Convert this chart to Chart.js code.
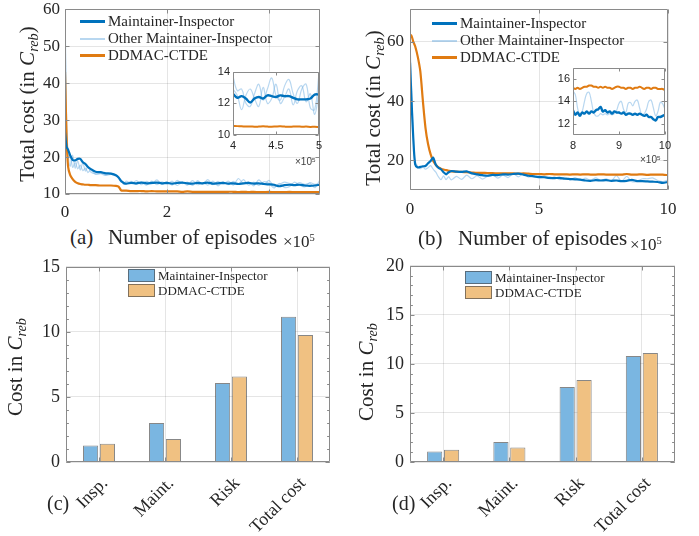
<!DOCTYPE html>
<html lang="en">
<head>
<meta charset="utf-8">
<title>Maintainer-Inspector vs DDMAC-CTDE</title>
<script src="https://cdn.jsdelivr.net/npm/chart.js@4.4.1/dist/chart.umd.min.js"></script>
<style>
  body { margin: 0; background: #fff; }
  #fig { position: relative; width: 699px; height: 536px; overflow: hidden;
         font-family: "Liberation Serif", "Times New Roman", serif; color: #262626; }
  #fig canvas { position: absolute; }
  .txt { position: absolute; white-space: nowrap; line-height: 1; }
  .rot { transform: translate(-50%, -50%) rotate(-90deg); }
  .txt sub { font-size: 0.68em; font-style: italic; vertical-align: -0.35em; line-height: 0; }
  .txt sup { font-size: 0.62em; vertical-align: 0.55em; line-height: 0; }
  .leg { position: absolute; }
  .leg div { white-space: nowrap; display: flex; align-items: center; }
  .leg span.sw { display: inline-block; flex: none; }
  .sans { font-family: "Liberation Sans", Arial, sans-serif; color: #404040; }
</style>
</head>
<body>
<div id="fig">
  <canvas id="cA"></canvas>
  <canvas id="cB"></canvas>
  <canvas id="cC"></canvas>
  <canvas id="cD"></canvas>
  <canvas id="cAi"></canvas>
  <canvas id="cBi"></canvas>

  <div id="legA" class="leg" style="left:80px; top:13px; font-size:15px;"></div>
  <div id="legB" class="leg" style="left:432px; top:15px; font-size:15px;"></div>
  <div id="legC" class="leg" style="left:128px; top:268px; font-size:13px;"></div>
  <div id="legD" class="leg" style="left:465px; top:270px; font-size:13px;"></div>

  <div class="txt rot" style="left:27px; top:104px; font-size:21px;">Total cost (in <i>C</i><sub>reb</sub>)</div>
  <div class="txt rot" style="left:373px; top:108px; font-size:21px;">Total cost (in <i>C</i><sub>reb</sub>)</div>
  <div class="txt rot" style="left:15px; top:367px; font-size:21px;">Cost in <i>C</i><sub>reb</sub></div>
  <div class="txt rot" style="left:366px; top:372px; font-size:21px;">Cost in <i>C</i><sub>reb</sub></div>

  <div class="txt" style="left:70px; top:227px; font-size:21px;">(a)</div>
  <div class="txt" style="left:108px; top:227px; font-size:21px;">Number of episodes</div>
  <div class="txt" style="left:283px; top:233px; font-size:17px;">&times;10<sup>5</sup></div>
  <div class="txt" style="left:418px; top:228px; font-size:21px;">(b)</div>
  <div class="txt" style="left:458px; top:228px; font-size:21px;">Number of episodes</div>
  <div class="txt" style="left:630px; top:236px; font-size:17px;">&times;10<sup>5</sup></div>
  <div class="txt sans" style="left:295px; top:157px; font-size:10px;">&times;10<sup>5</sup></div>
  <div class="txt sans" style="left:640px; top:155px; font-size:10px;">&times;10<sup>5</sup></div>

  <div class="txt" style="left:47px; top:493px; font-size:20px;">(c)</div>
  <div class="txt" style="left:392px; top:493px; font-size:20px;">(d)</div>
</div>

<script>
// ---------- data ----------
const seriesNames = ['Maintainer-Inspector', 'Other Maintainer-Inspector', 'DDMAC-CTDE'];

// panel (a): episodes in units of 1e5
const aX = [0, 0.03, 0.06, 0.1, 0.15, 0.2, 0.25, 0.3, 0.35, 0.4, 0.45, 0.5, 0.6, 0.7, 0.8, 0.9, 1.0, 1.05, 1.1, 1.15, 1.2,
  1.3, 1.4, 1.5, 1.6, 1.7, 1.8, 1.9, 2.0, 2.1, 2.2, 2.3, 2.4, 2.5, 2.6, 2.7, 2.8, 2.9, 3.0, 3.1, 3.2,
  3.3, 3.4, 3.5, 3.6, 3.7, 3.8, 3.9, 4.0, 4.1, 4.2, 4.3, 4.4, 4.5, 4.6, 4.7, 4.8, 4.9, 5.0];
const aBlue = [26.7, 22.8, 22.0, 20.5, 19.2, 19.1, 19.5, 19.5, 18.6, 18.1, 17.3, 16.8, 16.0, 15.9, 15.6, 15.5, 15.1, 14.5, 13.5, 13.0, 12.8,
  13.0, 12.9, 13.1, 12.9, 13.0, 13.1, 12.9, 13.0, 12.8, 13.0, 13.1, 12.9, 12.8, 13.0, 12.9, 13.1, 12.8, 12.9, 13.0, 12.8,
  12.9, 12.7, 12.9, 13.0, 12.8, 12.9, 12.7, 12.6, 12.5, 12.1, 12.4, 12.5, 12.4, 12.5, 12.3, 12.2, 12.3, 12.5];
const aOther1 = [62, 30, 21, 17.5, 20.5, 17.0, 19.0, 16.5, 18.5, 16.2, 17.5, 16.0, 15.5, 15.8, 15.2, 15.6, 15.0, 14.2, 13.8, 12.6, 13.5,
  12.8, 13.6, 12.5, 13.4, 12.7, 13.8, 12.6, 13.3, 12.4, 13.7, 12.8, 13.2, 12.3, 13.6, 12.7, 13.9, 12.5, 13.4, 12.6, 13.5,
  12.4, 14.2, 12.8, 13.3, 12.2, 13.8, 12.6, 13.7, 12.0, 12.6, 13.2, 12.9, 12.5, 13.1, 12.6, 12.9, 11.7, 13.9];
const aOther2 = [58, 27, 19.5, 20.5, 17.2, 18.5, 16.8, 17.8, 16.3, 17.0, 15.8, 16.5, 15.3, 15.5, 15.0, 15.3, 14.8, 14.5, 13.2, 13.3, 12.7,
  13.4, 12.6, 13.2, 12.4, 13.5, 12.5, 13.3, 12.6, 13.5, 12.3, 13.2, 12.4, 13.6, 12.5, 13.1, 12.4, 13.5, 12.2, 13.3, 12.5,
  13.4, 12.6, 13.9, 12.4, 13.2, 12.3, 13.3, 12.9, 11.6, 12.9, 11.8, 12.0, 13.2, 12.4, 11.9, 13.1, 12.6, 12.8];
const aOrange = [43, 26, 17.5, 15.2, 14.0, 13.3, 12.9, 12.7, 12.6, 12.5, 12.5, 12.4, 12.4, 12.3, 12.3, 12.3, 12.2, 12.0, 11.0, 10.9, 10.9,
  10.8, 10.8, 10.8, 10.7, 10.8, 10.7, 10.7, 10.7, 10.7, 10.7, 10.6, 10.7, 10.6, 10.6, 10.6, 10.6, 10.6, 10.6, 10.6, 10.6,
  10.6, 10.5, 10.6, 10.5, 10.6, 10.5, 10.5, 10.6, 10.5, 10.5, 10.5, 10.6, 10.5, 10.5, 10.5, 10.5, 10.5, 10.5];

// inset of (a): 4e5 .. 5e5
const aInX = [4.0, 4.05, 4.1, 4.15, 4.2, 4.25, 4.3, 4.35, 4.4, 4.45, 4.5, 4.55, 4.6, 4.65, 4.7, 4.75, 4.8, 4.85, 4.9, 4.95, 5.0];
const aInBlue = [12.6, 12.35, 12.45, 12.3, 12.05, 12.3, 12.4, 12.3, 12.5, 12.45, 12.4, 12.5, 12.45, 12.45, 12.35, 12.25, 12.25, 12.25, 12.3, 12.55, 12.55];
const aInOther1 = [13.7, 12.8, 12.9, 12.0, 11.8, 12.6, 13.2, 12.2, 12.9, 13.6, 12.5, 12.2, 13.1, 13.5, 12.6, 12.0, 12.9, 13.2, 11.7, 11.6, 13.9];
const aInOther2 = [12.9, 12.5, 11.6, 12.5, 12.9, 12.3, 11.8, 13.0, 12.0, 12.3, 13.2, 12.0, 12.4, 12.9, 11.9, 12.8, 13.1, 12.1, 12.6, 11.3, 12.8];
const aInOrange = [10.58, 10.56, 10.55, 10.53, 10.54, 10.52, 10.53, 10.55, 10.53, 10.52, 10.54, 10.55, 10.53, 10.52, 10.53, 10.54, 10.52, 10.53, 10.51, 10.52, 10.5];

// panel (b)
const bX = [0, 0.06, 0.13, 0.2, 0.3, 0.4, 0.5, 0.6, 0.7, 0.8, 0.9, 1.0, 1.1, 1.2, 1.3, 1.4, 1.5, 1.6, 1.8, 2.0,
  2.2, 2.4, 2.6, 2.8, 3.0, 3.2, 3.4, 3.6, 3.8, 4.0, 4.2, 4.4, 4.6, 4.8, 5.0, 5.2, 5.4, 5.6, 5.8, 6.0,
  6.2, 6.4, 6.6, 6.8, 7.0, 7.2, 7.4, 7.6, 7.8, 8.0, 8.2, 8.4, 8.6, 8.8, 9.0, 9.2, 9.4, 9.6, 9.8, 10.0];
const bBlue = [53, 40, 27, 18.7, 17.6, 17.8, 18.0, 18.1, 19.0, 19.8, 20.9, 18.5, 17.5, 17.0, 16.0, 15.3, 16.0, 16.4, 16.2, 16.1,
  16.3, 15.6, 15.3, 15.0, 14.8, 15.1, 15.0, 15.3, 15.2, 15.4, 15.5, 15.2, 14.8, 14.6, 14.4, 14.3, 14.1, 14.0, 14.1, 13.8,
  13.7, 13.6, 13.5, 13.2, 13.1, 13.3, 13.2, 13.3, 13.1, 13.2, 13.0, 13.1, 13.4, 13.0, 13.0, 12.9, 12.8, 12.7, 12.4, 12.7];
const bOther = [60, 45, 28, 19.5, 18.0, 17.2, 17.8, 17.0, 17.5, 18.2, 17.0, 16.0, 14.5, 13.5, 14.8, 13.5, 14.5, 13.4, 14.6, 13.6,
  15.0, 13.8, 14.8, 13.7, 14.6, 15.2, 14.0, 15.0, 14.2, 15.5, 14.4, 15.6, 14.3, 14.8, 13.9, 14.6, 13.8, 14.4, 13.5, 14.3,
  13.4, 14.2, 13.2, 14.0, 13.3, 14.1, 13.2, 13.8, 13.0, 14.9, 12.9, 14.6, 12.8, 12.9, 13.8, 13.8, 14.1, 13.2, 12.8, 13.4];
const bOrange = [62.5, 62, 60, 58.5, 55, 50, 40, 31, 25.5, 22, 19.8, 18.5, 17.6, 17.2, 16.9, 16.7, 16.5, 16.3, 16.2, 16.1,
  16.0, 15.9, 15.8, 15.8, 15.7, 15.7, 15.6, 15.6, 15.6, 15.6, 15.5, 15.6, 15.5, 15.4, 15.4, 15.3, 15.4, 15.3, 15.3, 15.3,
  15.2, 15.3, 15.2, 15.3, 15.2, 15.2, 15.3, 15.2, 15.2, 15.2, 15.2, 15.4, 15.2, 15.2, 15.3, 15.1, 15.2, 15.2, 15.2, 15.0];

// inset of (b): 8e5 .. 10e5
const bInX = [8.0, 8.05, 8.1, 8.15, 8.2, 8.25, 8.3, 8.35, 8.4, 8.45, 8.5, 8.55, 8.6, 8.65, 8.7, 8.75, 8.8, 8.85, 8.9, 8.95,
  9.0, 9.05, 9.1, 9.15, 9.2, 9.25, 9.3, 9.35, 9.4, 9.45, 9.5, 9.55, 9.6, 9.65, 9.7, 9.75, 9.8, 9.85, 9.9, 9.95, 10.0];
const bInBlue = [13.2, 12.8, 13.0, 12.7, 13.0, 12.9, 13.1, 12.9, 13.1, 13.0, 13.2, 13.3, 13.5, 13.1, 13.2, 13.0, 13.1, 12.9, 13.1, 13.0,
  13.0, 12.9, 13.0, 12.8, 12.9, 12.9, 12.8, 12.9, 12.8, 12.9, 12.8, 12.7, 12.8, 12.6, 12.6, 12.4, 12.3, 12.6, 12.6, 12.7, 12.8];
const bInOther = [14.9, 14.6, 13.4, 12.8, 13.1, 14.0, 14.7, 14.8, 14.0, 13.0, 12.7, 12.7, 12.9, 12.8, 12.9, 12.8, 12.9, 12.8, 12.9, 13.2,
  13.8, 14.0, 13.3, 13.0, 13.8, 13.9, 13.6, 14.0, 14.1, 13.4, 12.8, 12.9, 13.3, 14.0, 14.1, 13.4, 12.7, 13.1, 13.9, 13.8, 13.3];
const bInOrange = [15.2, 15.1, 15.2, 15.1, 15.2, 15.3, 15.3, 15.4, 15.4, 15.3, 15.3, 15.2, 15.3, 15.2, 15.3, 15.2, 15.2, 15.1, 15.2, 15.3,
  15.3, 15.2, 15.2, 15.1, 15.2, 15.2, 15.1, 15.2, 15.2, 15.3, 15.2, 15.1, 15.2, 15.2, 15.1, 15.2, 15.2, 15.1, 15.1, 15.1, 15.0];

// panels (c) and (d)
const barNames = ['Maintainer-Inspector', 'DDMAC-CTDE'];
const costCats = ['Insp.', 'Maint.', 'Risk', 'Total cost'];
const cMI = [1.26, 3.0, 6.08, 11.16];
const cDD = [1.41, 1.77, 6.57, 9.75];
const dMI = [1.07, 2.04, 7.64, 10.8];
const dDD = [1.24, 1.47, 8.37, 11.1];

// tick values
const aXTicks = [0, 2, 4], aYTicks = [10, 20, 30, 40, 50, 60];
const bXTicks = [0, 5, 10], bYTicks = [20, 40, 60];
const aInXTicks = [4, 4.5, 5], aInYTicks = [10, 12, 14];
const bInXTicks = [8, 9, 10], bInYTicks = [12, 14, 16];
const cYTicks = [0, 5, 10, 15], dYTicks = [0, 5, 10, 15, 20];

// ---------- style ----------
const SERIF = "'Liberation Serif', 'Times New Roman', serif";
const SANS = "'Liberation Sans', Arial, sans-serif";
const INK = '#262626';
const GRID = 'rgba(38,38,38,0.12)';
const BLUE = '#0072bd';
const LIGHT = 'rgba(125,182,228,0.55)';
const ORANGE = '#e07b12';
const BAR_BLUE = 'rgb(122,182,225)';
const BAR_ORANGE = 'rgb(240,193,130)';

Chart.defaults.font.family = SERIF;
Chart.defaults.color = INK;

// box round the plot area plus matlab-style inward ticks
const axesBox = {
  id: 'axesBox',
  beforeDraw(chart, args, o) {
    if (!o.white) return;
    const { ctx, chartArea: a } = chart;
    ctx.save();
    ctx.fillStyle = '#fff';
    ctx.fillRect(a.left, a.top, a.width, a.height);
    ctx.restore();
  },
  afterDatasetsDraw(chart, args, o) {
    const { ctx, chartArea: a, scales: { x, y } } = chart;
    const L = Math.round(a.left) + 0.5, R = Math.round(a.right) - 0.5;
    const T = Math.round(a.top) + 0.5, B = Math.round(a.bottom) - 0.5;
    const len = o.len || 4;
    ctx.save();
    ctx.strokeStyle = o.color || '#8a8a8a';
    ctx.lineWidth = 1;
    ctx.beginPath();
    ctx.rect(L, T, R - L, B - T);
    y.ticks.forEach(t => {
      const p = Math.round(y.getPixelForValue(t.value)) + 0.5;
      ctx.moveTo(L, p); ctx.lineTo(L + len, p);
      ctx.moveTo(R, p); ctx.lineTo(R - len, p);
    });
    if (o.minorY) {
      for (let v = y.min; v <= y.max + 1e-9; v += o.minorY) {
        const p = Math.round(y.getPixelForValue(v)) + 0.5;
        ctx.moveTo(L, p); ctx.lineTo(L + len * 0.6, p);
        ctx.moveTo(R, p); ctx.lineTo(R - len * 0.6, p);
      }
    }
    x.ticks.forEach((t, i) => {
      const p = Math.round(x.getPixelForTick(i)) + 0.5;
      ctx.moveTo(p, B); ctx.lineTo(p, B - len);
      ctx.moveTo(p, T); ctx.lineTo(p, T + len);
    });
    ctx.stroke();
    ctx.restore();
  }
};

// put a canvas so that its plot area lands on rect r = [left, top, right, bottom]
function place(id, r, m) {
  const c = document.getElementById(id);
  c.style.left = (r[0] - m.l) + 'px';
  c.style.top = (r[1] - m.t) + 'px';
  c.width = r[2] - r[0] + m.l + m.r;
  c.height = r[3] - r[1] + m.t + m.b;
  return c;
}

function axis(o) {
  const ax = {
    type: o.type || 'linear',
    afterFit: s => { if (o.w != null) s.width = o.w; if (o.h != null) s.height = o.h; },
    grid: { display: o.grid !== false, color: GRID, drawTicks: false, offset: false },
    border: { display: false },
    ticks: { color: INK, padding: o.pad, autoSkip: false, maxRotation: o.rot || 0, minRotation: o.rot || 0,
             labelOffset: o.shift || 0, font: { family: o.family || SERIF, size: o.size } }
  };
  if (ax.type === 'linear') ax.ticks.callback = v => String(v);
  if (o.min != null) ax.min = o.min;
  if (o.max != null) ax.max = o.max;
  if (o.ticks) ax.afterBuildTicks = s => { s.ticks = o.ticks.map(v => ({ value: v })); };
  return ax;
}

function pts(xs, ys) { return xs.map((x, i) => ({ x: x, y: ys[i] })); }

function line(label, xs, ys, color, width, tension) {
  return { label: label, data: pts(xs, ys), borderColor: color, borderWidth: width,
           pointRadius: 0, tension: tension, fill: false };
}

function lineChart(id, rect, m, xs, series, ax, ay, box) {
  const canvas = place(id, rect, m);
  const t = box.tension;
  const ds = [
    line(seriesNames[0], xs, series.blue, BLUE, box.wBlue, t),
    line(seriesNames[2], xs, series.orange, ORANGE, box.wOrange, t)
  ];
  series.other.forEach(o => ds.push(line(seriesNames[1], xs, o, LIGHT, 1.2, t)));
  return new Chart(canvas, {
    type: 'line',
    data: { datasets: ds },
    options: {
      responsive: false, animation: false, events: [],
      layout: { padding: { top: m.t, right: m.r, left: 0, bottom: 0 } },
      scales: { x: ax, y: ay },
      plugins: { legend: { display: false }, tooltip: { enabled: false }, axesBox: box }
    },
    plugins: [axesBox]
  });
}

function barChart(id, rect, m, mi, dd, yTicks) {
  const canvas = place(id, rect, m);
  const common = { borderWidth: 1, borderColor: 'rgba(70,70,70,0.65)', categoryPercentage: 0.51, barPercentage: 0.9 };
  return new Chart(canvas, {
    type: 'bar',
    data: {
      labels: costCats,
      datasets: [
        Object.assign({ label: barNames[0], data: mi, backgroundColor: BAR_BLUE }, common),
        Object.assign({ label: barNames[1], data: dd, backgroundColor: BAR_ORANGE }, common)
      ]
    },
    options: {
      responsive: false, animation: false, events: [],
      layout: { padding: { top: m.t, right: m.r, left: 0, bottom: 0 } },
      scales: {
        x: axis({ type: 'category', h: m.b, pad: 11, size: 18, rot: 45, shift: 6 }),
        y: axis({ min: yTicks[0], max: yTicks[yTicks.length - 1], ticks: yTicks, w: m.l, pad: 6, size: 18 })
      },
      plugins: { legend: { display: false }, tooltip: { enabled: false },
                 axesBox: { minorY: 1, len: 4 } }
    },
    plugins: [axesBox]
  });
}

// ---------- charts ----------
const mA = { l: 55, t: 14, r: 16, b: 30 };
lineChart('cA', [65, 8, 320, 194], mA, aX,
  { blue: aBlue, orange: aOrange, other: [aOther1, aOther2] },
  axis({ min: 0, max: 5, ticks: aXTicks, h: mA.b, pad: 8, size: 17 }),
  axis({ min: 10, max: 60, ticks: aYTicks, w: mA.l, pad: 5, size: 17 }),
  { wBlue: 2.2, wOrange: 2.2, tension: 0.25, len: 4 });

const mB = { l: 55, t: 14, r: 22, b: 30 };
lineChart('cB', [410, 7, 668, 190], mB, bX,
  { blue: bBlue, orange: bOrange, other: [bOther] },
  axis({ min: 0, max: 10, ticks: bXTicks, h: mB.b, pad: 9, size: 17 }),
  axis({ min: 10, max: 71, ticks: bYTicks, w: mB.l, pad: 6, size: 17 }),
  { wBlue: 2.2, wOrange: 2.2, tension: 0.25, len: 4 });

const mAi = { l: 24, t: 8, r: 8, b: 18 };
lineChart('cAi', [233, 70, 319, 135], mAi, aInX,
  { blue: aInBlue, orange: aInOrange, other: [aInOther1, aInOther2] },
  axis({ min: 4, max: 5, ticks: aInXTicks, h: mAi.b, pad: 4, size: 11, family: SANS, grid: false }),
  axis({ min: 10, max: 14, ticks: aInYTicks, w: mAi.l, pad: 3, size: 11, family: SANS, grid: false }),
  { wBlue: 2.4, wOrange: 2.0, tension: 0.4, len: 3, white: true });

const mBi = { l: 24, t: 8, r: 10, b: 18 };
lineChart('cBi', [573, 66, 665, 135], mBi, bInX,
  { blue: bInBlue, orange: bInOrange, other: [bInOther] },
  axis({ min: 8, max: 10, ticks: bInXTicks, h: mBi.b, pad: 4, size: 11, family: SANS, grid: false }),
  axis({ min: 11, max: 17, ticks: bInYTicks, w: mBi.l, pad: 3, size: 11, family: SANS, grid: false }),
  { wBlue: 2.4, wOrange: 2.0, tension: 0.4, len: 3, white: true });

barChart('cC', [66, 264, 330, 462], { l: 55, t: 14, r: 16, b: 74 }, cMI, cDD, cYTicks);
barChart('cD', [410, 263, 675, 462], { l: 55, t: 14, r: 16, b: 74 }, dMI, dDD, dYTicks);

// ---------- html legends ----------
function lineLegend(id, rowH) {
  const el = document.getElementById(id);
  const items = [[seriesNames[0], BLUE, 3], [seriesNames[1], LIGHT, 2], [seriesNames[2], ORANGE, 3]];
  items.forEach(([name, col, h]) => {
    const row = document.createElement('div');
    row.style.height = rowH + 'px';
    row.innerHTML = '<span class="sw" style="width:25px;height:' + h + 'px;background:' + col + ';margin-right:3px"></span>' + name;
    el.appendChild(row);
  });
}
function barLegend(id) {
  const el = document.getElementById(id);
  [[barNames[0], BAR_BLUE], [barNames[1], BAR_ORANGE]].forEach(([name, col]) => {
    const row = document.createElement('div');
    row.style.height = '15px';
    row.innerHTML = '<span class="sw" style="width:25px;height:11px;background:' + col +
      ';border:1px solid rgba(70,70,70,0.65);margin-right:3px"></span>' + name;
    el.appendChild(row);
  });
}
lineLegend('legA', 17);
lineLegend('legB', 17);
barLegend('legC');
barLegend('legD');
</script>
</body>
</html>
